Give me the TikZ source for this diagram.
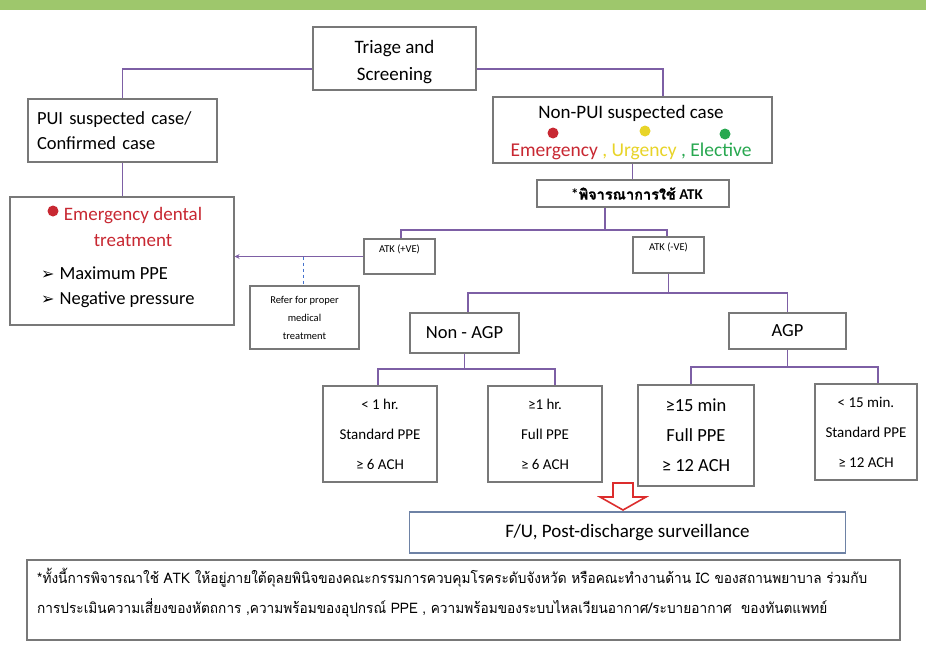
\documentclass[tikz,border=0pt]{standalone}
\usepackage{fontspec}
\setmainfont{Carlito}
\newfontfamily\thai[Script=Thai]{Loma}
\newfontfamily\thaibold[Script=Thai,FakeBold=0.8]{Loma}
\newfontfamily\dejavu{DejaVu Sans}
\usetikzlibrary{arrows.meta}
\definecolor{band}{RGB}{158,199,108}
\definecolor{linepurple}{RGB}{125,95,165}
\definecolor{boxgray}{RGB}{120,120,120}
\definecolor{emred}{RGB}{200,40,50}
\definecolor{urgyel}{RGB}{232,212,40}
\definecolor{elgreen}{RGB}{40,168,80}
\definecolor{fublue}{RGB}{110,130,165}
\definecolor{arrred}{RGB}{220,45,45}
\definecolor{dashblue}{RGB}{70,115,205}
\newsavebox\footboxA
\newsavebox\footboxB
\begin{document}
\sbox\footboxA{\thai\fontsize{14.5}{14.5}\selectfont *ทั้งนี้การพิจารณาใช้ ATK ให้อยู่ภายใต้ดุลยพินิจของคณะกรรมการควบคุมโรคระดับจังหวัด หรือคณะทำงานด้าน IC ของสถานพยาบาล ร่วมกับ}%
\sbox\footboxB{\thai\fontsize{14.5}{14.5}\selectfont การประเมินความเสี่ยงของหัตถการ ,ความพร้อมของอุปกรณ์ PPE , ความพร้อมของระบบไหลเวียนอากาศ/ระบายอากาศ\ \ ของทันตแพทย์}%
\pgfmathsetmacro\footscale{830/\wd\footboxA}%
\begin{tikzpicture}[x=1pt,y=-1pt,
  box/.style={draw=boxgray, line width=1.1pt, inner sep=0pt, align=center, fill=white},
  conn/.style={draw=linepurple, line width=1.4pt},
  dotn/.style={circle, inner sep=0pt, minimum size=11pt},
  txt/.style={inner sep=0pt}]
\useasboundingbox (0,0) rectangle (926,648);
\fill[band] (0,0) rectangle (926,10);

% boxes
\node[box, minimum width=163pt, minimum height=63pt, font=\fontsize{19}{27}\selectfont] (triage) at (394.5,58.5) {\rule{0pt}{20pt}Triage and\\Screening};
\node[box, minimum width=189pt, minimum height=63pt, text width=171pt, align=left, font=\fontsize{18.5}{25}\selectfont] (pui) at (122.5,130.5) {PUI suspected case/\\Confirmed case};
\node[box, minimum width=224pt, minimum height=128pt] (emerg) at (122,261) {};
\node[dotn, fill=emred] (d0) at (53,211) {};
\node[txt, text=emred, align=center, font=\fontsize{19}{26}\selectfont] (emt) at (133,227) {Emergency dental\\treatment};
\node[txt, anchor=base west, font=\fontsize{18.5}{22}\selectfont] (bu1) at (41,279) {{\dejavu\fontsize{16}{16}\selectfont ➢}\hspace{5pt}Maximum PPE};
\node[txt, anchor=base west, font=\fontsize{18.5}{22}\selectfont] (bu2) at (41,304) {{\dejavu\fontsize{16}{16}\selectfont ➢}\hspace{5pt}Negative pressure};

\node[box, minimum width=279pt, minimum height=66pt] (nonpui) at (632.5,130) {};
\node[txt, font=\fontsize{19}{20}\selectfont] (nptitle) at (631,113) {Non-PUI suspected case};
\node[txt, font=\fontsize{19.5}{20}\selectfont] (npcat) at (631,151) {{\color{emred}Emergency} {\color{urgyel}, Urgency} {\color{elgreen}, Elective}};
\node[dotn, fill=emred] (dr) at (553,133) {};
\node[dotn, fill=urgyel] (dy) at (645,131) {};
\node[dotn, fill=elgreen] (dg) at (725,134) {};

\node[box, minimum width=192pt, minimum height=27pt, font=\bfseries\fontsize{15}{15}\selectfont] (consider) at (633,193.5) {\hspace*{8pt}*{\thaibold\fontsize{14.5}{14}\selectfont พิจารณาการใช้} ATK};

\node[box, minimum width=71pt, minimum height=35pt, font=\fontsize{10.5}{12}\selectfont] (atkp) at (399.5,256.5) {ATK (+VE)\\[4pt]};
\node[box, minimum width=71pt, minimum height=36pt, font=\fontsize{10.5}{12}\selectfont] (atkn) at (668.5,255) {ATK (-VE)\\[4pt]};
\node[box, minimum width=109pt, minimum height=63pt, font=\fontsize{10.5}{18}\selectfont] (refer) at (304.5,317.5) {Refer for proper\\medical\\treatment};

\node[box, minimum width=109pt, minimum height=40pt, font=\fontsize{18.5}{20}\selectfont] (nonagp) at (464.5,333) {Non - AGP};
\node[box, minimum width=117pt, minimum height=36pt, font=\fontsize{18.5}{20}\selectfont] (agp) at (787.5,331) {AGP};

\node[box, minimum width=114pt, minimum height=96pt, font=\fontsize{15}{30}\selectfont] (b1) at (380,434) {< 1 hr.\\Standard PPE\\≥ 6 ACH};
\node[box, minimum width=114pt, minimum height=96pt, font=\fontsize{15}{30}\selectfont] (b2) at (545,434) {≥1 hr.\\Full PPE\\≥ 6 ACH};
\node[box, minimum width=116pt, minimum height=101pt, font=\fontsize{18.5}{30}\selectfont] (b3) at (696,435.5) {≥15 min\\Full PPE\\≥ 12 ACH};
\node[box, minimum width=102pt, minimum height=96pt, font=\fontsize{15}{30}\selectfont] (b4) at (866,432) {< 15 min.\\Standard PPE\\≥ 12 ACH};

% hollow red arrow
\draw[arrred, line width=1.6pt, fill=white, line join=miter]
  (613,483) -- (633,483) -- (633,497) -- (646,497) -- (623,510) -- (600,497) -- (613,497) -- cycle;

\node[draw=fublue, line width=1.1pt, inner sep=0pt, minimum width=436pt, minimum height=41pt, font=\fontsize{19}{20}\selectfont] (fu) at (627.5,532.5) {F/U, Post-discharge surveillance};

\node[box, minimum width=873pt, minimum height=80pt] (foot) at (463.5,600) {};
\node[txt, anchor=base west] (ft1) at (37,583) {\scalebox{\footscale}[1]{\usebox\footboxA}};
\node[txt, anchor=base west] (ft2) at (37,613) {\scalebox{\footscale}[1]{\usebox\footboxB}};

% connectors
\draw[conn] ([yshift=-10.5pt]triage.west) -| (pui.north);
\draw[conn] ([yshift=-10.5pt]triage.east) -| ([xshift=30.5pt]nonpui.north);
\draw[conn] (pui.south) -- (pui.south |- emerg.north);
\draw[conn] (nonpui.south) -- (nonpui.south |- consider.north);
\coordinate (hub1) at (605,230);
\draw[conn] ([xshift=-28pt]consider.south) -- (hub1);
\draw[conn] ([xshift=1.5pt]atkp.north) |- (hub1) -| ([xshift=-1.5pt]atkn.north);
\draw[conn, -{Stealth[length=5pt,width=5pt]}] (atkp.west) -- (atkp.west -| emerg.east);
\draw[dashed, draw=dashblue, line width=1pt] ([xshift=-1.5pt]refer.north |- atkp.west) -- ([xshift=-1.5pt]refer.north);
\coordinate (hub2) at (668.5,293);
\draw[conn] (atkn.south) -- (hub2);
\draw[conn] ([xshift=3.5pt]nonagp.north) |- (hub2) -| (agp.north);
\coordinate (hub3) at (464.5,369);
\draw[conn] (nonagp.south) -- (hub3);
\draw[conn] ([xshift=-2pt]b1.north) |- (hub3) -| ([xshift=10pt]b2.north);
\coordinate (hub4) at (787.5,367);
\draw[conn] (agp.south) -- (hub4);
\draw[conn] ([xshift=-5pt]b3.north) |- (hub4) -| ([xshift=12pt]b4.north);
\end{tikzpicture}
\end{document}
